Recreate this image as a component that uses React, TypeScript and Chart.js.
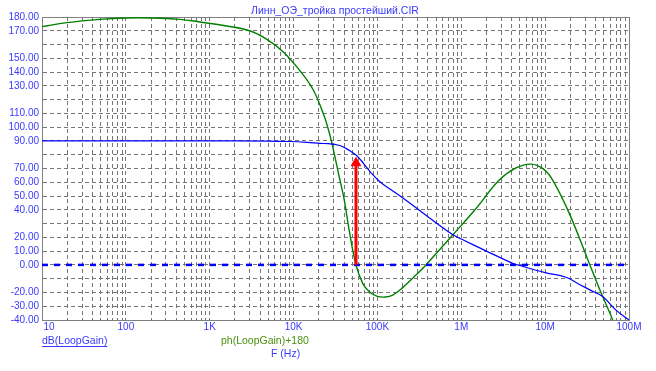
import React, { useEffect, useRef } from 'react';
import { Chart, registerables } from 'chart.js';

Chart.register(...registerables);

// ---- text ----
const chartTitle = 'Линн_ОЭ_тройка простейший.CIR';
const gainLabel = 'dB(LoopGain)';
const phaseLabel = 'ph(LoopGain)+180';
const xAxisLabel = 'F (Hz)';

// ---- axes ----
const xMin = 10;
const xMax = 1e8;
const yMin = -40;
const yMax = 180;
const yStep = 10;
const xDecadeValues = [10, 100, 1e3, 1e4, 1e5, 1e6, 1e7, 1e8];
const xDecadeLabels = ['     10', '100', '1K', '10K', '100K', '1M', '10M', '100M'];
const yHiddenLabels = [160, 120, 80, 30, -10];

// ---- dB(LoopGain) ----
const gainFreq = [10, 100, 1000, 5000, 9000, 14500, 20600, 26000, 32000, 37000, 42000, 48000, 55500, 64000, 73000, 85000, 100000, 120000, 150000, 219000, 400000, 789000, 1000000, 2000000, 4100000, 4700000, 10000000, 17700000, 25000000, 35000000, 48500000, 70000000, 100000000];
const gainDb = [90, 90, 90, 89.9, 89.6, 89, 88.3, 88, 87.4, 86.3, 84.6, 82.5, 79.8, 75.8, 71.3, 66.5, 62, 58, 54, 47, 35, 22, 18.8, 10, 1.1, 0, -5.6, -9, -13.8, -18.5, -23, -32.8, -40];

// ---- ph(LoopGain)+180 ----
const phaseFreq = [10, 19.7, 49, 100, 194, 443, 766, 1590, 3000, 4800, 7500, 11900, 17200, 22600, 25000, 28000, 31000, 35000, 40000, 46000, 55500, 66700, 80000, 100000, 125000, 152000, 200000, 270000, 379000, 789000, 1500000, 2840000, 4500000, 6800000, 9500000, 12300000, 19400000, 33600000, 48500000, 63900000, 80000000];
const phaseDeg = [173, 175.9, 178.3, 179.3, 179.3, 178.3, 176.4, 173.5, 170, 163.8, 154.8, 141, 127, 110, 102, 91, 79, 64, 48, 25.3, 0, -13.4, -19.5, -22.8, -23.3, -21.9, -16.5, -9, 0, 21.7, 41, 61.6, 70.4, 73.2, 69.7, 61.6, 37.4, 1.1, -23, -40, -58];

// ---- 0 dB reference line ----
const zeroFreq = [10, 100000000];
const zeroLevel = [0, 0];

// ---- crossover marker ----
const arrowFreq = [55500, 55500];
const arrowLevel = [0, 74];

const toPoints = (xs: number[], ys: number[]) => xs.map((x, i) => ({ x, y: ys[i] }));

const framePlugin = {
  id: 'frameAndTexts',
  beforeDatasetsDraw(chart: any) {
    const { ctx, chartArea } = chart;
    ctx.save();
    ctx.strokeStyle = '#808080';
    ctx.lineWidth = 1;
    ctx.strokeRect(
      Math.round(chartArea.left) + 0.5,
      Math.round(chartArea.top) + 0.5,
      Math.round(chartArea.right - chartArea.left),
      Math.round(chartArea.bottom - chartArea.top)
    );
    ctx.restore();
  },
  afterDraw(chart: any) {
    const { ctx, chartArea } = chart;
    ctx.save();
    ctx.font = '10.5px "Liberation Sans", Arial, sans-serif';
    ctx.textBaseline = 'middle';
    // title
    ctx.fillStyle = '#3a3aff';
    ctx.textAlign = 'center';
    ctx.fillText(chartTitle, 335, 11);
    // gain label (underlined)
    ctx.textAlign = 'left';
    ctx.fillText(gainLabel, chartArea.left, 341);
    const w = ctx.measureText(gainLabel).width;
    ctx.strokeStyle = '#3a3aff';
    ctx.lineWidth = 1;
    ctx.beginPath();
    ctx.moveTo(chartArea.left, 346.5);
    ctx.lineTo(chartArea.left + w, 346.5);
    ctx.stroke();
    // phase label
    ctx.fillStyle = '#4a9010';
    ctx.fillText(phaseLabel, 221, 341);
    // x axis name
    ctx.fillStyle = '#3a3aff';
    ctx.fillText(xAxisLabel, 271, 354);
    ctx.restore();
  },
};

export default function App() {
  const canvasRef = useRef<HTMLCanvasElement | null>(null);

  useEffect(() => {
    const canvas = canvasRef.current;
    if (!canvas) return;
    const chart = new Chart(canvas, {
      type: 'line',
      data: {
        datasets: [
          {
            label: 'arrow',
            data: toPoints(arrowFreq, arrowLevel),
            borderColor: '#ff0000',
            backgroundColor: '#ff0000',
            borderWidth: 3,
            pointRadius: [0, 5.5],
            pointStyle: 'triangle',
            pointBackgroundColor: '#ff0000',
            pointBorderColor: '#ff0000',
            pointBorderWidth: 1,
            tension: 0,
            order: 0,
          },
          {
            label: 'zero',
            data: toPoints(zeroFreq, zeroLevel),
            borderColor: '#0000ff',
            borderWidth: 2.5,
            borderDash: [6, 6],
            pointRadius: 0,
            tension: 0,
            order: 1,
          },
          {
            label: gainLabel,
            data: toPoints(gainFreq, gainDb),
            borderColor: '#0000ff',
            borderWidth: 1.2,
            pointRadius: 0,
            tension: 0.4,
            order: 2,
          },
          {
            label: phaseLabel,
            data: toPoints(phaseFreq, phaseDeg),
            borderColor: '#008000',
            borderWidth: 1.4,
            pointRadius: 0,
            tension: 0.4,
            order: 3,
          },
        ],
      },
      options: {
        responsive: false,
        animation: false,
        events: [],
        layout: { padding: { top: 17, right: 27, left: 0, bottom: 0 } },
        plugins: {
          legend: { display: false },
          tooltip: { enabled: false },
          title: { display: false },
        },
        scales: {
          x: {
            type: 'logarithmic',
            min: xMin,
            max: xMax,
            afterBuildTicks: (scale: any) => {
              const ticks: { value: number }[] = [];
              for (let e = 1; e < 8; e++) {
                for (let k = 1; k < 10; k++) ticks.push({ value: k * Math.pow(10, e) });
              }
              ticks.push({ value: xMax });
              scale.ticks = ticks;
            },
            afterFit: (scale: any) => {
              scale.height = 51;
            },
            grid: { color: '#767676', lineWidth: 1, drawTicks: false },
            border: { display: true, color: '#808080', width: 1, dash: [4, 3] },
            ticks: {
              autoSkip: false,
              maxRotation: 0,
              minRotation: 0,
              padding: 1,
              color: '#3a3aff',
              font: { family: '"Liberation Sans", Arial, sans-serif', size: 10 },
              callback: (value: any) => {
                const v = Number(value);
                const i = xDecadeValues.findIndex((d) => Math.abs(d - v) / d < 1e-9);
                return i >= 0 ? xDecadeLabels[i] : '';
              },
            },
          },
          y: {
            type: 'linear',
            min: yMin,
            max: yMax,
            afterFit: (scale: any) => {
              scale.width = 42;
            },
            grid: { color: '#767676', lineWidth: 1, drawTicks: false },
            border: { display: true, color: '#808080', width: 1, dash: [4, 3] },
            ticks: {
              stepSize: yStep,
              autoSkip: false,
              padding: 3,
              color: '#3a3aff',
              font: { family: '"Liberation Sans", Arial, sans-serif', size: 10 },
              callback: (value: any) => {
                const v = Number(value);
                return yHiddenLabels.includes(v) ? '' : v.toFixed(2);
              },
            },
          },
        },
      },
      plugins: [framePlugin],
    } as any);
    return () => chart.destroy();
  }, []);

  return (
    <div style={{ position: 'fixed', left: 0, top: 0, width: 656, height: 371, background: '#ffffff' }}>
      <canvas ref={canvasRef} width={656} height={371} style={{ width: 656, height: 371, display: 'block' }} />
    </div>
  );
}
